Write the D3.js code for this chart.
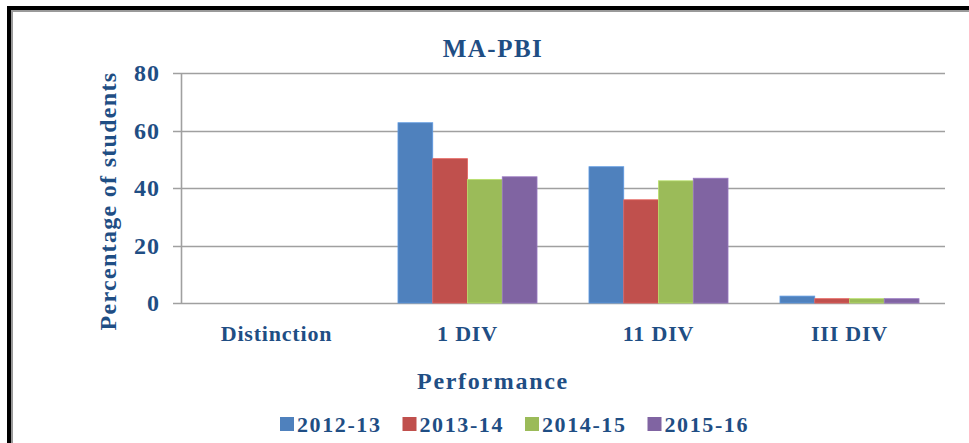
<!DOCTYPE html>
<html>
<head>
<meta charset="utf-8">
<script src="https://cdn.jsdelivr.net/npm/d3@7"></script>
<style>
  body { margin: 0; background: #fff; }
  text { font-family: "Liberation Serif", "Times New Roman", serif; font-weight: bold; fill: #1f4e84; }
</style>
</head>
<body>
<div id="chart"></div>
<script>
// chart data
const categories = ['Distinction', '1 DIV', '11 DIV', 'III DIV'];
const years = ['2012-13', '2013-14', '2014-15', '2015-16'];
const colors = ['#4f81bd', '#c0504d', '#9bbb59', '#8064a2'];
const values = {
  '2012-13': [0, 62.7, 47.4, 2.4],
  '2013-14': [0, 50.2, 35.9, 1.5],
  '2014-15': [0, 43.0, 42.5, 1.5],
  '2015-16': [0, 43.9, 43.4, 1.5]
};
const yTicks = [0, 20, 40, 60, 80];

const width = 969, height = 443;
const plot = { left: 181, right: 945, top: 73, bottom: 303 };

let svg = d3.select('#chart')
  .append('svg')
  .attr('width', width)
  .attr('height', height);

// frame (black left/top edges, gray inner shadow)
svg.append('rect').attr('x', 7).attr('y', 6).attr('width', width - 7).attr('height', 4).attr('fill', '#000');
svg.append('rect').attr('x', 7).attr('y', 6).attr('width', 4).attr('height', height - 6).attr('fill', '#000');
svg.append('rect').attr('x', 11).attr('y', 10).attr('width', width - 11).attr('height', 2).attr('fill', '#9a9a9a');
svg.append('rect').attr('x', 11).attr('y', 10).attr('width', 2).attr('height', height - 10).attr('fill', '#9a9a9a');

let y = d3.scaleLinear().domain([0, 80]).range([plot.bottom, plot.top]);
let x0 = d3.scaleBand().domain(categories).range([plot.left, plot.right]).padding(0);
let gap = x0.bandwidth() * 0.136;
let x1 = d3.scaleBand().domain(years).range([gap, x0.bandwidth() - gap]).padding(0);

// gridlines + tick stubs
svg.append('g')
  .selectAll('line')
  .data(yTicks)
  .enter()
  .append('line')
  .attr('x1', plot.left - 8)
  .attr('x2', plot.right)
  .attr('y1', d => Math.round(y(d)) + 0.5)
  .attr('y2', d => Math.round(y(d)) + 0.5)
  .attr('stroke', '#a0a0a0')
  .attr('stroke-width', 1.6);

svg.append('line')
  .attr('x1', plot.left + 0.5).attr('x2', plot.left + 0.5)
  .attr('y1', plot.top).attr('y2', plot.bottom)
  .attr('stroke', '#a0a0a0').attr('stroke-width', 1.6);

// y tick labels
svg.append('g')
  .selectAll('text')
  .data(yTicks)
  .enter()
  .append('text')
  .attr('x', 160)
  .attr('y', d => y(d) + 8)
  .attr('text-anchor', 'end')
  .style('font-size', '24px')
  .style('letter-spacing', '1px')
  .text(d => d);

// bars
let groups = svg.append('g')
  .selectAll('g')
  .data(categories)
  .enter()
  .append('g')
  .attr('transform', d => `translate(${x0(d)},0)`);

groups.selectAll('rect')
  .data((c, i) => years.map((yr, j) => ({ yr: yr, v: values[yr][i], color: colors[j] })))
  .enter()
  .append('rect')
  .attr('x', d => x1(d.yr))
  .attr('y', d => y(d.v))
  .attr('width', x1.bandwidth())
  .attr('height', d => y(0) - y(d.v))
  .attr('fill', d => d.color)
  .attr('stroke', d => d3.color(d.color).brighter(0.5))
  .attr('stroke-width', 0.8);

// category labels
svg.append('g')
  .selectAll('text')
  .data(categories)
  .enter()
  .append('text')
  .attr('x', d => x0(d) + x0.bandwidth() / 2)
  .attr('y', 341)
  .attr('text-anchor', 'middle')
  .style('font-size', '22px')
  .style('letter-spacing', '0.8px')
  .text(d => d);

// title and axis titles
svg.append('text')
  .attr('x', 493).attr('y', 57)
  .attr('text-anchor', 'middle')
  .style('font-size', '25px')
  .style('letter-spacing', '1.5px')
  .text('MA-PBI');

svg.append('text')
  .attr('transform', 'translate(116,201) rotate(-90)')
  .attr('text-anchor', 'middle')
  .style('font-size', '24px')
  .style('letter-spacing', '1.3px')
  .text('Percentage of students');

svg.append('text')
  .attr('x', 493).attr('y', 389)
  .attr('text-anchor', 'middle')
  .style('font-size', '24px')
  .style('letter-spacing', '1.7px')
  .text('Performance');

// legend
let legend = svg.append('g')
  .selectAll('g')
  .data(years)
  .enter()
  .append('g')
  .attr('transform', (d, i) => `translate(${280 + i * 122.5},417)`);

legend.append('rect')
  .attr('width', 14).attr('height', 14)
  .attr('fill', (d, i) => colors[i]);

legend.append('text')
  .attr('x', 17).attr('y', 15)
  .style('font-size', '22px')
  .style('letter-spacing', '1.6px')
  .text(d => d);
</script>
</body>
</html>
